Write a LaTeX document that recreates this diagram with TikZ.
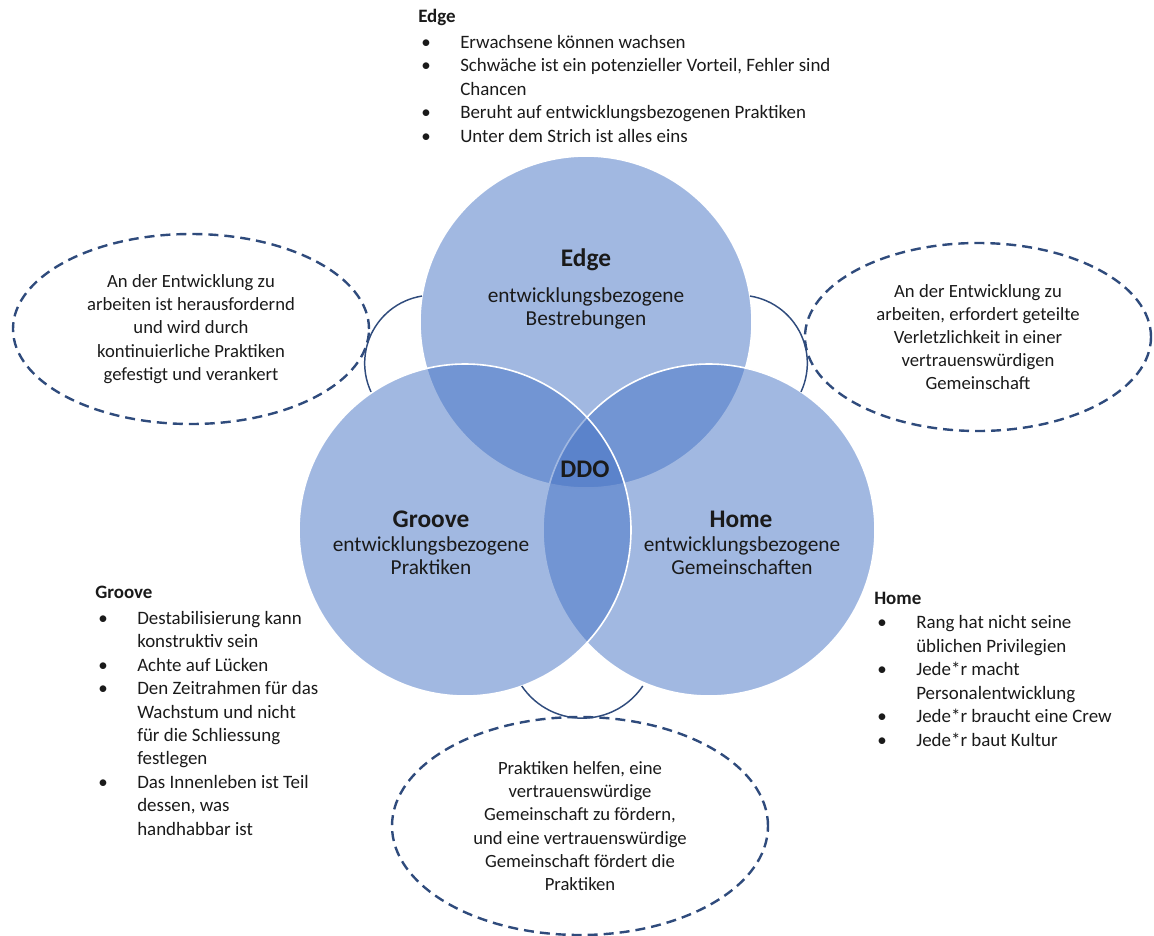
\documentclass[tikz,border=0pt]{standalone}
\usepackage{fontspec}
\setmainfont{Carlito}
\usetikzlibrary{shapes.geometric}
\definecolor{vennblue}{HTML}{4472C4}
\definecolor{navy}{HTML}{2F4B7C}
\definecolor{txt}{HTML}{1A1A1A}
\begin{document}
\begin{tikzpicture}[x=0.75pt,y=0.75pt,
  venn/.style={circle, minimum size=249pt, inner sep=0pt, outer sep=0pt,
    fill=vennblue, fill opacity=0.5, draw=white, line width=1.2pt},
  vhead/.style={font=\fontsize{19}{22}\selectfont\bfseries, text=txt, inner sep=0pt},
  vsub/.style={font=\fontsize{16}{17.3}\selectfont, align=center, text=txt, inner sep=0pt},
  bubble/.style={ellipse, draw=navy, line width=1.8pt, dash pattern=on 7.5pt off 4.5pt,
    inner sep=0pt, align=center, text=txt, font=\fontsize{14}{17.4}\selectfont},
  link/.style={draw=navy, line width=1.1pt},
  blist/.style={anchor=base west, inner sep=0pt, text=txt, font=\fontsize{14.2}{17.6}\selectfont}
]
\useasboundingbox (0,0) rectangle (1154,-936);

% Venn circles
\node[venn] (edge) at (586,-322) {};
\node[venn] (home) at (709,-530) {};
\node[venn] (groove) at (465,-530) {};

% circle labels
\node[vhead] (edgeT) at (586,-260) {Edge};
\node[vsub] (edgeS) at (586,-308) {entwicklungsbezogene\\Bestrebungen};
\node[vhead] (grooveT) at (431,-519) {Groove};
\node[vsub] (grooveS) at (431,-556) {entwicklungsbezogene\\Praktiken};
\node[vhead] (homeT) at (741,-519) {Home};
\node[vsub] (homeS) at (742,-556) {entwicklungsbezogene\\Gemeinschaften};
\node[vhead] (ddo) at (585,-469) {DDO};

% dashed bubbles
\node[bubble, minimum width=267pt, minimum height=142.5pt] (bl) at (191,-329)
  {\raisebox{-2pt}{}An der Entwicklung zu\\arbeiten ist herausfordernd\\und wird durch\\kontinuierliche Praktiken\\gefestigt und verankert};
\node[bubble, minimum width=259.5pt, minimum height=141pt] (br) at (978,-337)
  {An der Entwicklung zu\\arbeiten, erfordert geteilte\\Verletzlichkeit in einer\\vertrauenswürdigen\\Gemeinschaft};
\node[bubble, minimum width=282pt, minimum height=163.5pt] (bb) at (580,-826)
  {Praktiken helfen, eine\\vertrauenswürdige\\Gemeinschaft zu fördern,\\und eine vertrauenswürdige\\Gemeinschaft fördert die\\Praktiken};

% connecting arcs
\draw[link] (edge.171) arc[start angle=99, end angle=205, radius=68];
\draw[link] (edge.9) arc[start angle=81, end angle=-25, radius=68];
\draw[link] (groove.-70) arc[start angle=214, end angle=326, radius=73];

% bullet lists
\node[blist] (edgeList) at (418,-22) {\begin{tabular}[t]{@{\hspace{2.25pt}}p{29.25pt}@{}l@{}}
\multicolumn{2}{@{}l@{}}{\bfseries Edge}\\[2pt]
• & Erwachsene können wachsen\\
• & Schwäche ist ein potenzieller Vorteil, Fehler sind\\
  & Chancen\\
• & Beruht auf entwicklungsbezogenen Praktiken\\
• & Unter dem Strich ist alles eins
\end{tabular}};

\node[blist] (grooveList) at (95,-598) {\begin{tabular}[t]{@{\hspace{2.25pt}}p{29.25pt}@{}l@{}}
\multicolumn{2}{@{}l@{}}{\bfseries Groove}\\[2pt]
• & Destabilisierung kann\\
  & konstruktiv sein\\
• & Achte auf Lücken\\
• & Den Zeitrahmen für das\\
  & Wachstum und nicht\\
  & für die Schliessung\\
  & festlegen\\
• & Das Innenleben ist Teil\\
  & dessen, was\\
  & handhabbar ist
\end{tabular}};

\node[blist] (homeList) at (874,-604) {\begin{tabular}[t]{@{\hspace{2.25pt}}p{29.25pt}@{}l@{}}
\multicolumn{2}{@{}l@{}}{\bfseries Home}\\[1pt]
• & Rang hat nicht seine\\
  & üblichen Privilegien\\
• & Jede*r macht\\
  & Personalentwicklung\\
• & Jede*r braucht eine Crew\\
• & Jede*r baut Kultur
\end{tabular}};
\end{tikzpicture}
\end{document}
